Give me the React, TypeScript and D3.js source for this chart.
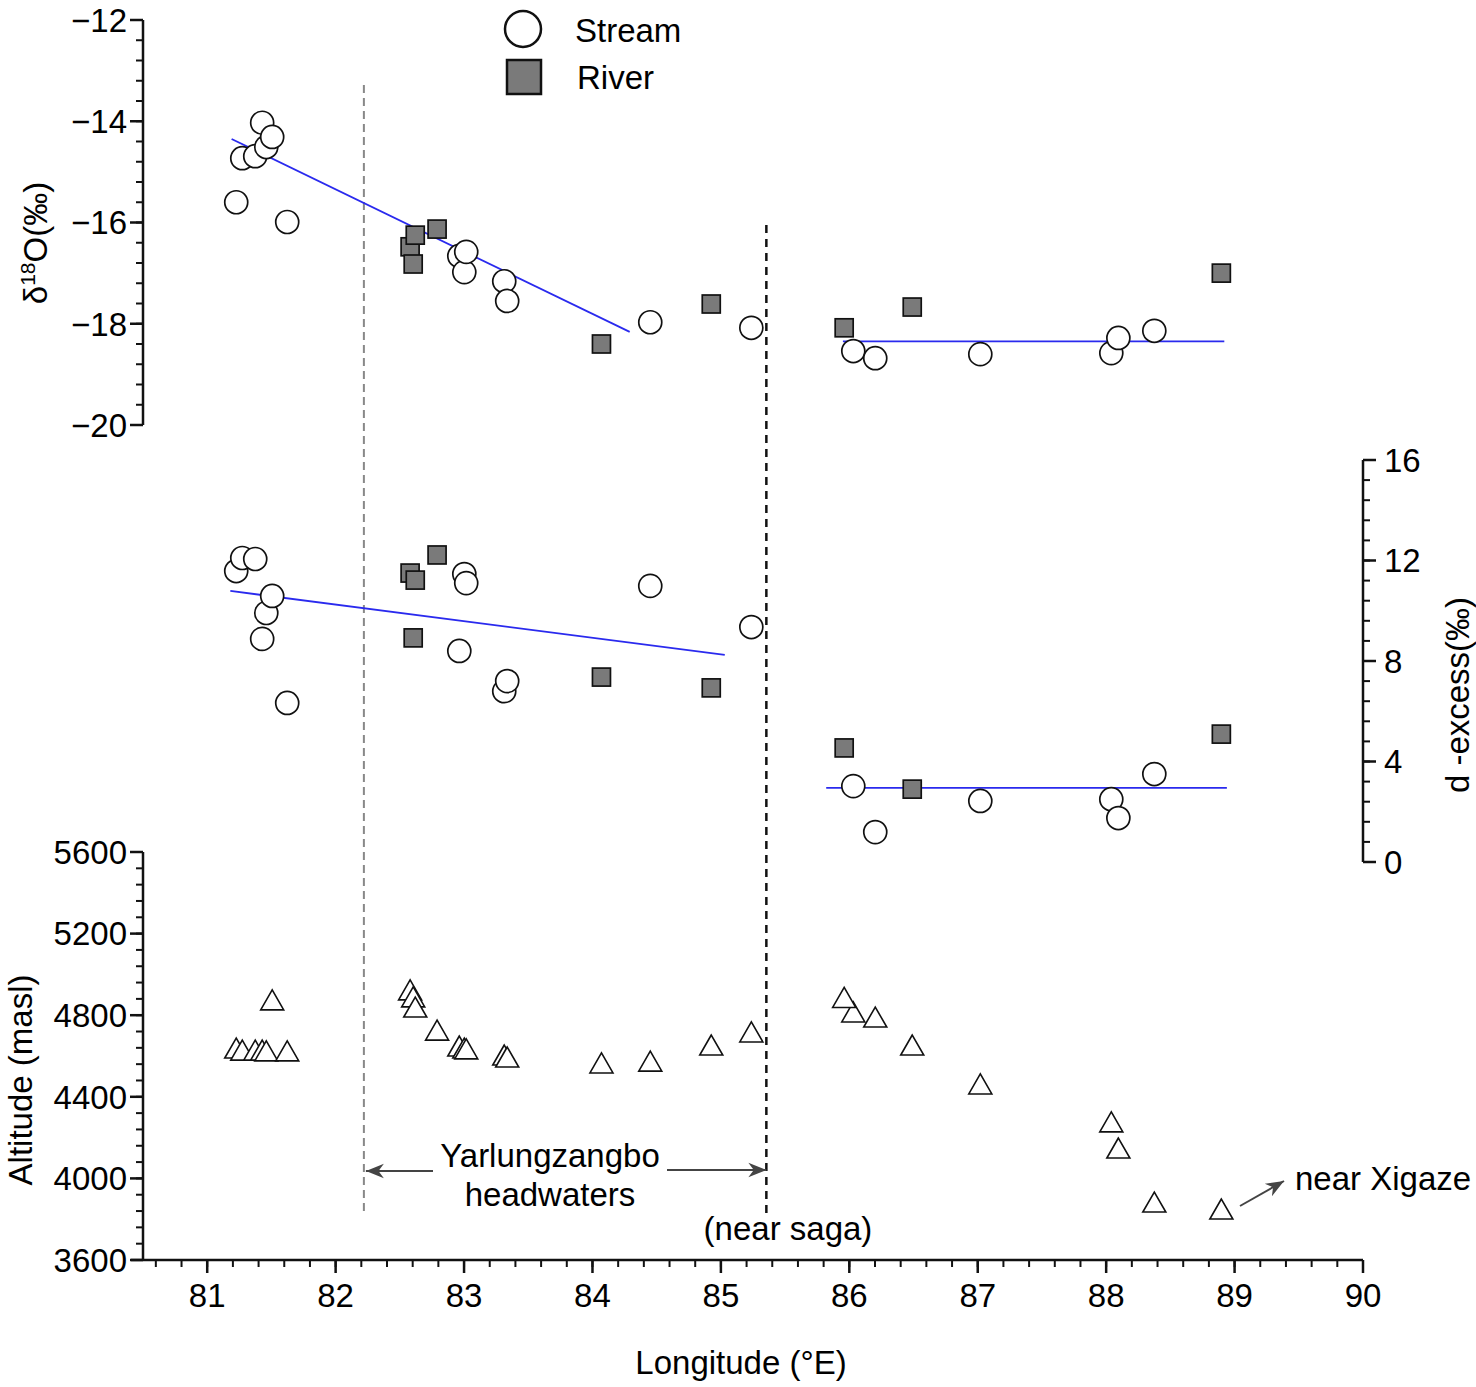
import React from "react";
import * as d3 from "d3";

// ---- Data ----
const streamLon = [81.226, 81.273, 81.374, 81.428, 81.46, 81.506, 81.623, 82.963, 83.002, 83.017, 83.313, 83.336, 84.45, 85.237, 86.031, 86.202, 87.02, 88.04, 88.095, 88.375];
const streamD18O = [-15.6, -14.73, -14.69, -14.03, -14.51, -14.31, -15.99, -16.66, -16.98, -16.58, -17.16, -17.55, -17.97, -18.08, -18.54, -18.68, -18.6, -18.58, -18.28, -18.14];
const streamDex = [11.58, 12.1, 12.06, 8.88, 9.91, 10.59, 6.33, 8.4, 11.46, 11.1, 6.8, 7.2, 10.99, 9.35, 3.02, 1.19, 2.43, 2.5, 1.75, 3.5];
const streamAlt = [4639, 4629, 4629, 4629, 4625, 4875, 4625, 4649, 4639, 4635, 4605, 4595, 4575, 4718, 4816, 4791, 4463, 4277, 4149, 3884];

const riverLon = [82.58, 82.604, 82.62, 82.79, 84.07, 84.925, 85.96, 86.49, 88.897];
const riverD18O = [-16.48, -16.82, -16.25, -16.13, -18.4, -17.61, -18.08, -17.67, -17.0];
const riverDex = [11.5, 8.92, 11.22, 12.22, 7.36, 6.93, 4.54, 2.9, 5.09];
const riverAlt = [4924, 4890, 4840, 4727, 4566, 4654, 4887, 4654, 3850];

// trend lines: [lon, value] endpoints
const d18OTrendWest = [[81.19, -14.35], [84.29, -18.16]];
const d18OTrendEast = [[85.95, -18.35], [88.92, -18.35]];
const dexTrendWest = [[81.18, 10.79], [85.03, 8.24]];
const dexTrendEast = [[85.82, 2.95], [88.94, 2.95]];

const headwaterLon = 82.22;
const sagaLon = 85.354;

const xTicks = [81, 82, 83, 84, 85, 86, 87, 88, 89, 90];
const d18OTicks = [-12, -14, -16, -18, -20];
const dexTicks = [0, 4, 8, 12, 16];
const altTicks = [3600, 4000, 4400, 4800, 5200, 5600];

const FONT = "'Liberation Sans', Arial, Helvetica, sans-serif";

export default function App() {
  const x = d3.scaleLinear().domain([80.5, 90]).range([143, 1363]);
  const y18 = d3.scaleLinear().domain([-20, -12]).range([425, 20]);
  const yDex = d3.scaleLinear().domain([0, 16]).range([862, 460]);
  const yAlt = d3.scaleLinear().domain([3600, 5600]).range([1260, 852]);

  const xMinor = d3.range(80.6, 90.001, 0.2);
  const d18Minor = d3.range(-20, -11.999, 0.4);
  const dexMinor = d3.range(0, 16.001, 0.8);
  const altMinor = d3.range(3600, 5600.1, 80);

  const fmt = d3.format("d");
  const line = d3.line<number[]>();

  const fs = 33;
  const axisStroke = 2.5;

  const circles = (lons: number[], vals: number[], y: d3.ScaleLinear<number, number>) =>
    lons.map((l, i) => (
      <circle key={i} cx={x(l)} cy={y(vals[i])} r={11.5} fill="#fff" stroke="#111" strokeWidth={1.7} />
    ));
  const squares = (lons: number[], vals: number[], y: d3.ScaleLinear<number, number>) =>
    lons.map((l, i) => (
      <rect key={i} x={x(l) - 9} y={y(vals[i]) - 9} width={18} height={18} fill="#7a7a7a" stroke="#111" strokeWidth={1.7} />
    ));
  const tri = (cx: number, cy: number) => `M${cx},${cy - 10}L${cx - 11.5},${cy + 10}L${cx + 11.5},${cy + 10}Z`;

  const trend = (pts: number[][], y: d3.ScaleLinear<number, number>) => (
    <path d={line(pts.map((p) => [x(p[0]), y(p[1])])) || ""} fill="none" stroke="#2a2aee" strokeWidth={1.8} />
  );

  return (
    <div style={{ position: "absolute", left: 0, top: 0 }}>
      <svg width={1476} height={1387} style={{ display: "block", background: "#fff" }} fontFamily={FONT}>
        <defs>
          <marker id="ah2" viewBox="0 0 10 10" refX="10" refY="5" markerWidth="18" markerHeight="18" markerUnits="userSpaceOnUse" orient="auto">
            <path d="M0,1L10,5L0,9L3,5Z" fill="#444" />
          </marker>
        </defs>

        {/* dashed boundary lines */}
        <line x1={x(headwaterLon)} x2={x(headwaterLon)} y1={85} y2={1213} stroke="#888" strokeWidth={2} strokeDasharray="8 5" />
        <line x1={x(sagaLon)} x2={x(sagaLon)} y1={225} y2={1213} stroke="#111" strokeWidth={2.5} strokeDasharray="8 6" />

        {/* left δ18O axis */}
        <line x1={x(80.5)} x2={x(80.5)} y1={y18(-12)} y2={y18(-20)} stroke="#111" strokeWidth={axisStroke} />
        {d18Minor.map((v, i) => (
          <line key={i} x1={x(80.5) - 7} x2={x(80.5)} y1={y18(v)} y2={y18(v)} stroke="#111" strokeWidth={2} />
        ))}
        {d18OTicks.map((v) => (
          <g key={v}>
            <line x1={x(80.5) - 13} x2={x(80.5)} y1={y18(v)} y2={y18(v)} stroke="#111" strokeWidth={axisStroke} />
            <text x={127} y={y18(v)} dy="0.36em" textAnchor="end" fontSize={fs}>{fmt(v).replace("-", "\u2212")}</text>
          </g>
        ))}
        <text transform={`translate(47,243) rotate(-90)`} textAnchor="middle" fontSize={fs}>
          δ<tspan fontSize={21} dy={-12}>18</tspan><tspan dy={12}>O(‰)</tspan>
        </text>

        {/* right d-excess axis */}
        <line x1={x(90)} x2={x(90)} y1={yDex(16)} y2={yDex(0)} stroke="#111" strokeWidth={axisStroke} />
        {dexMinor.map((v, i) => (
          <line key={i} x1={x(90)} x2={x(90) + 7} y1={yDex(v)} y2={yDex(v)} stroke="#111" strokeWidth={2} />
        ))}
        {dexTicks.map((v) => (
          <g key={v}>
            <line x1={x(90)} x2={x(90) + 13} y1={yDex(v)} y2={yDex(v)} stroke="#111" strokeWidth={axisStroke} />
            <text x={1384} y={yDex(v)} dy="0.36em" textAnchor="start" fontSize={fs}>{fmt(v)}</text>
          </g>
        ))}
        <text transform={`translate(1469,695) rotate(-90)`} textAnchor="middle" fontSize={fs}>d -excess(‰)</text>

        {/* altitude axis */}
        <line x1={x(80.5)} x2={x(80.5)} y1={yAlt(5600)} y2={yAlt(3600)} stroke="#111" strokeWidth={axisStroke} />
        {altMinor.map((v, i) => (
          <line key={i} x1={x(80.5) - 7} x2={x(80.5)} y1={yAlt(v)} y2={yAlt(v)} stroke="#111" strokeWidth={2} />
        ))}
        {altTicks.map((v) => (
          <g key={v}>
            <line x1={x(80.5) - 13} x2={x(80.5)} y1={yAlt(v)} y2={yAlt(v)} stroke="#111" strokeWidth={axisStroke} />
            <text x={127} y={yAlt(v)} dy="0.36em" textAnchor="end" fontSize={fs}>{fmt(v)}</text>
          </g>
        ))}
        <text transform={`translate(32,1080) rotate(-90)`} textAnchor="middle" fontSize={fs}>Altitude (masl)</text>

        {/* bottom x axis */}
        <line x1={x(80.5) - 12} x2={x(90)} y1={yAlt(3600)} y2={yAlt(3600)} stroke="#111" strokeWidth={axisStroke} />
        {xMinor.map((v, i) => (
          <line key={i} x1={x(v)} x2={x(v)} y1={yAlt(3600)} y2={yAlt(3600) + 7} stroke="#111" strokeWidth={2} />
        ))}
        {xTicks.map((v) => (
          <g key={v}>
            <line x1={x(v)} x2={x(v)} y1={yAlt(3600)} y2={yAlt(3600) + 13} stroke="#111" strokeWidth={axisStroke} />
            <text x={x(v)} y={1307} textAnchor="middle" fontSize={fs}>{fmt(v)}</text>
          </g>
        ))}
        <text x={741} y={1374} textAnchor="middle" fontSize={fs}>Longitude (°E)</text>

        {/* trend lines */}
        {trend(d18OTrendWest, y18)}
        {trend(d18OTrendEast, y18)}
        {trend(dexTrendWest, yDex)}
        {trend(dexTrendEast, yDex)}

        {/* δ18O points */}
        {circles(streamLon, streamD18O, y18)}
        {squares(riverLon, riverD18O, y18)}

        {/* d-excess points */}
        {circles(streamLon, streamDex, yDex)}
        {squares(riverLon, riverDex, yDex)}

        {/* altitude triangles */}
        {streamLon.map((l, i) => (
          <path key={"s" + i} d={tri(x(l), yAlt(streamAlt[i]))} fill="#fff" stroke="#111" strokeWidth={1.6} />
        ))}
        {riverLon.map((l, i) => (
          <path key={"r" + i} d={tri(x(l), yAlt(riverAlt[i]))} fill="#fff" stroke="#111" strokeWidth={1.6} />
        ))}

        {/* legend */}
        <circle cx={523} cy={29} r={18} fill="#fff" stroke="#111" strokeWidth={2.5} />
        <text x={575} y={42} fontSize={fs}>Stream</text>
        <rect x={507} y={60} width={34} height={34} fill="#7a7a7a" stroke="#111" strokeWidth={2.5} />
        <text x={577} y={89} fontSize={fs}>River</text>

        {/* annotations */}
        <text x={550} y={1167} textAnchor="middle" fontSize={fs}>Yarlungzangbo</text>
        <text x={550} y={1206} textAnchor="middle" fontSize={fs}>headwaters</text>
        <line x1={433} x2={x(headwaterLon) + 2} y1={1171} y2={1171} stroke="#444" strokeWidth={2} markerEnd="url(#ah2)" />
        <line x1={667} x2={x(sagaLon)} y1={1170} y2={1170} stroke="#444" strokeWidth={2} markerEnd="url(#ah2)" />
        <text x={788} y={1240} textAnchor="middle" fontSize={fs}>(near saga)</text>
        <text x={1295} y={1190} fontSize={fs}>near Xigaze</text>
        <line x1={1240} y1={1206} x2={1284} y2={1181} stroke="#444" strokeWidth={2} markerEnd="url(#ah2)" />
      </svg>
    </div>
  );
}
